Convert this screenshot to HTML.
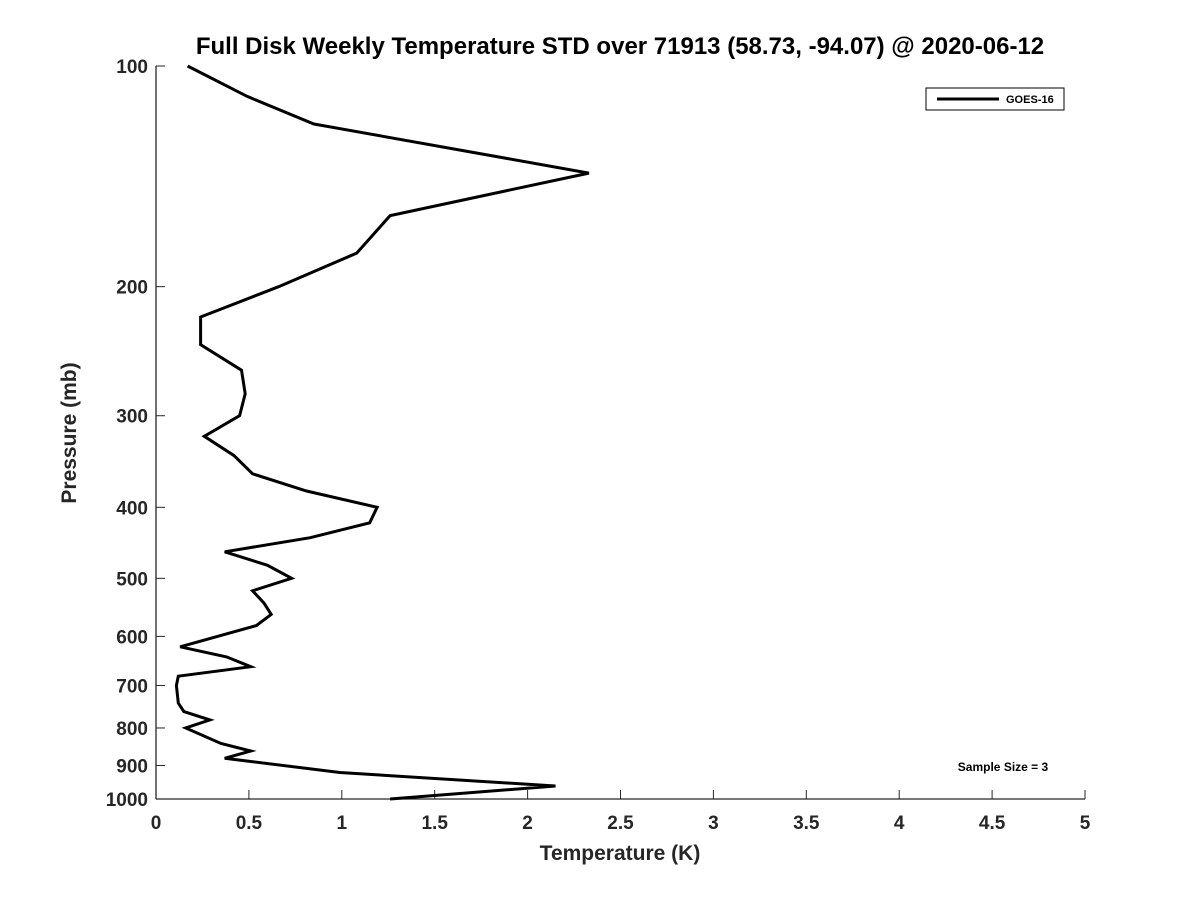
<!DOCTYPE html>
<html><head><meta charset="utf-8"><style>
body{margin:0;background:#fff;}
svg text{font-family:"Liberation Sans","DejaVu Sans",sans-serif;font-weight:bold;}
</style></head><body>
<svg id="c" width="1200" height="900" xmlns="http://www.w3.org/2000/svg">
<rect width="1200" height="900" fill="#fff"/>
<text x="620" y="54" text-anchor="middle" font-size="24" fill="#000">Full Disk Weekly Temperature STD over 71913 (58.73, -94.07) @ 2020-06-12</text>
<g id="axes"></g>
<text transform="translate(76,433) rotate(-90)" text-anchor="middle" font-size="21" fill="#262626">Pressure (mb)</text>
<text x="620" y="860" text-anchor="middle" font-size="21" fill="#262626">Temperature (K)</text>
<g>
<rect x="926" y="88" width="138" height="22" fill="#fff" stroke="#000" stroke-width="1"/>
<line x1="937" y1="99" x2="999" y2="99" stroke="#000" stroke-width="3"/>
<text x="1006" y="103" font-size="11" fill="#000">GOES-16</text>
</g>
<text x="1003" y="771" text-anchor="middle" font-size="12" fill="#000">Sample Size = 3</text>
</svg>
<script>
const pressures=[100,110,120,140,160,180,200,220,240,260,280,300,320,340,360,380,400,420,440,460,480,500,520,540,560,580,620,640,660,680,700,740,760,780,800,840,860,880,920,960,1000];
const stdValues=[0.17,0.49,0.85,2.33,1.26,1.08,0.66,0.24,0.24,0.46,0.48,0.45,0.26,0.42,0.52,0.81,1.19,1.15,0.83,0.37,0.60,0.73,0.52,0.58,0.62,0.54,0.13,0.38,0.51,0.12,0.11,0.12,0.15,0.29,0.16,0.35,0.51,0.37,0.99,2.15,1.26];
const xTicks=[0,0.5,1,1.5,2,2.5,3,3.5,4,4.5,5];
const xTickLabels=["0","0.5","1","1.5","2","2.5","3","3.5","4","4.5","5"];
const yTicks=[100,200,300,400,500,600,700,800,900,1000];
const L=156,R=1085,T=66,B=799;
const xs=v=>L+(v-0)/(5-0)*(R-L);
const ys=p=>T+(Math.log10(p)-2)/(1)*(B-T);
const NS="http://www.w3.org/2000/svg";
const g=document.getElementById('axes');
function mk(tag,attrs){const e=document.createElementNS(NS,tag);for(const k in attrs)e.setAttribute(k,attrs[k]);g.appendChild(e);return e;}
let e=mk('line',{x1:L,y1:B,x2:R,y2:B,stroke:'#262626','stroke-width':1.3});


e=mk('line',{x1:L,y1:T,x2:L,y2:B,stroke:'#262626','stroke-width':1.3});


xTicks.forEach((v,i)=>{
  const x=xs(v);
  let t=mk('line',{x1:x,y1:B,x2:x,y2:B-9,stroke:'#262626','stroke-width':1});
  
  
  let tx=mk('text',{x:x,y:B+30,'text-anchor':'middle','font-size':19,fill:'#262626'});
  tx.textContent=xTickLabels[i];
  
  
});
yTicks.forEach(p=>{
  const y=ys(p);
  let t=mk('line',{x1:L,y1:y,x2:L+9,y2:y,stroke:'#262626','stroke-width':1});
  
  
  let tx=mk('text',{x:L-8,y:y+7,'text-anchor':'end','font-size':19,fill:'#262626'});
  tx.textContent=String(p);
  
  
});
const pts=pressures.map((p,i)=>xs(stdValues[i]).toFixed(1)+','+ys(p).toFixed(1)).join(' ');
const line=mk('polyline',{points:pts,fill:'none',stroke:'#000','stroke-width':3,'stroke-linejoin':'miter'});


</script>
</body></html>
